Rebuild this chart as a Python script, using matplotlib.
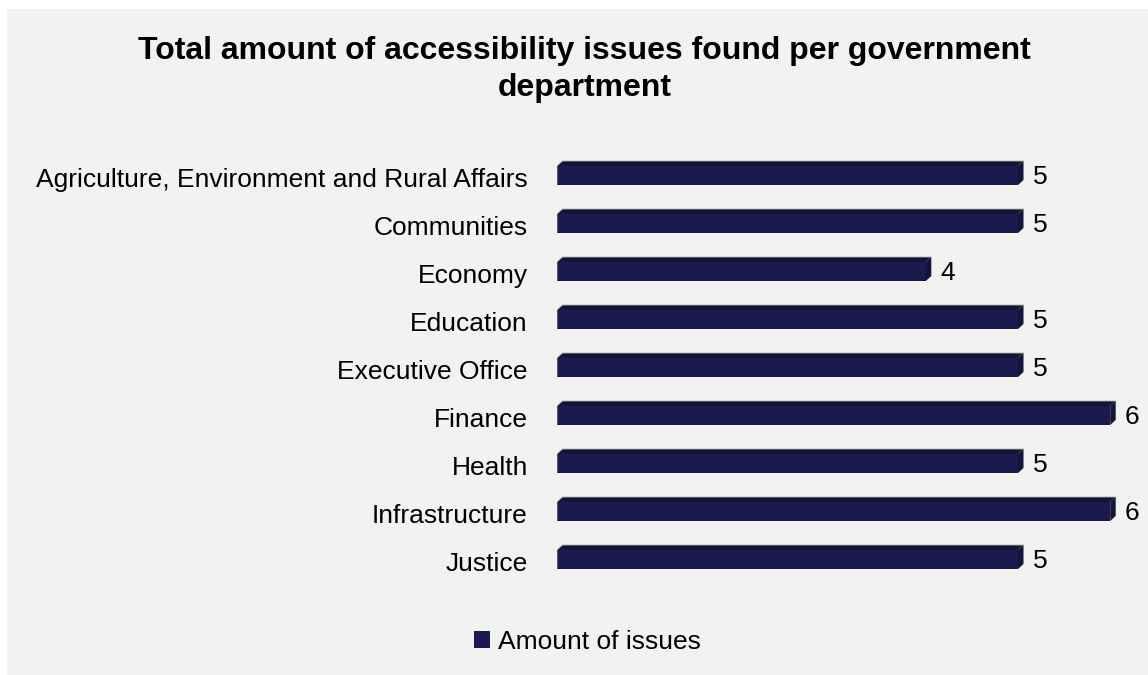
import matplotlib.pyplot as plt
import matplotlib.transforms as mtransforms
from matplotlib.patches import Polygon, Rectangle, Patch

departments = [
    "Agriculture, Environment and Rural Affairs",
    "Communities",
    "Economy",
    "Education",
    "Executive Office",
    "Finance",
    "Health",
    "Infrastructure",
    "Justice",
]
issues = [5, 5, 4, 5, 5, 6, 5, 6, 5]

plt.rcParams['font.family'] = ['Liberation Sans', 'DejaVu Sans']

front_color = '#1b1a4f'
dark_color = '#141438'
edge_color = '#b0b0b8'
bg_color = '#f2f2f2'

fig = plt.figure(figsize=(11.48, 6.75), dpi=100, facecolor='white')
# grey chart area, leaving a thin white strip on the left and top
fig.patches.append(Rectangle((7 / 1148, 0), 1, 666 / 675, transform=fig.transFigure,
                             facecolor=bg_color, edgecolor='none', zorder=-10))

ax = fig.add_axes([557 / 1148, 75 / 675, 591 / 1148, 460 / 675])
ax.set_facecolor('none')

# pixel sizes of the pseudo-3D bars, converted to data units
px_per_unit = 92.2
px_per_row = 48
depth_x = 5.5 / px_per_unit
depth_y = 5 / px_per_row
bar_h = 19 / px_per_row

for i, v in enumerate(issues):
    y0 = i + bar_h / 2   # bottom of front face (y axis inverted)
    y1 = i - bar_h / 2   # top of front face
    front = Rectangle((0, y1), v, bar_h, facecolor=front_color, edgecolor='none')
    top = Polygon([(0, y1), (depth_x, y1 - depth_y), (v + depth_x, y1 - depth_y), (v, y1)],
                  closed=True, facecolor=dark_color, edgecolor='none')
    side = Polygon([(v, y1), (v + depth_x, y1 - depth_y), (v + depth_x, y0 - depth_y), (v, y0)],
                   closed=True, facecolor=dark_color, edgecolor='none')
    ax.add_patch(front)
    ax.add_patch(top)
    ax.add_patch(side)
    # thin light outline along the left and top edges
    ax.plot([0, 0, depth_x, v + depth_x], [y0, y1, y1 - depth_y, y1 - depth_y],
            color=edge_color, linewidth=0.6)
    ax.text(v + depth_x + 9 / px_per_unit, i + 2 / px_per_row, str(v), va='center', ha='left',
            fontsize=19, clip_on=False)

ax.set_xlim(0, 591 / px_per_unit)
ax.set_ylim((600 - 175.5) / px_per_row, (140 - 175.5) / px_per_row)
ax.set_yticks(range(len(departments)))
ax.set_yticklabels(departments, fontsize=19)
ax.tick_params(axis='y', length=0, pad=21)
ax.set_xticks([])
for s in ax.spines.values():
    s.set_visible(False)

# nudge category labels down a couple of pixels
shift = mtransforms.ScaledTranslation(0, -2 / 100, fig.dpi_scale_trans)
for lbl in ax.get_yticklabels():
    lbl.set_transform(lbl.get_transform() + shift)

fig.text(0.509, 0.947, "Total amount of accessibility issues found per government\ndepartment",
         ha='center', va='top', fontsize=23, fontweight='bold', linespacing=1.3)

fig.legend(handles=[Patch(facecolor=front_color, label='Amount of issues')],
           loc='center', bbox_to_anchor=(0.512, 1 - 642 / 675), frameon=False, fontsize=19,
           handlelength=0.6, handleheight=0.6, handletextpad=0.3)

fig.savefig('out.png', dpi=100, facecolor=fig.get_facecolor())
